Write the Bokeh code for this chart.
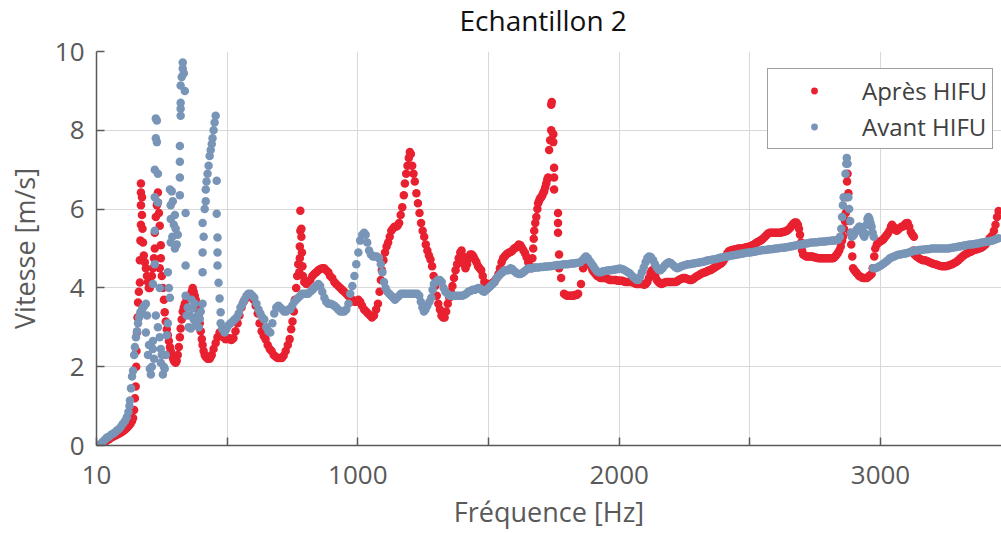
from bokeh.plotting import figure
from bokeh.models import FixedTicker, Range1d, Legend, LegendItem, ColumnDataSource, Title
from bokeh.embed import file_html
from bokeh.resources import INLINE

# ---------------- data ----------------
titre = "Echantillon 2"
x_label = "Fréquence [Hz]"
y_label = "Vitesse [m/s]"
serie_noms = ["Après HIFU", "Avant HIFU"]
x_ticks = [0, 500, 1000, 1500, 2000, 2500, 3000, 3500]
x_tick_labels = ["10", "", "1000", "", "2000", "", "3000", ""]
y_ticks = [0, 2, 4, 6, 8, 10]

avant_freq = [
    10, 18, 25, 33, 40, 48, 56, 63, 70, 78,
    86, 94, 101, 109, 116, 122, 126, 128, 132, 136,
    140, 144, 147, 151, 155, 159, 163, 168, 174, 178,
    183, 189,
    189, 193, 197, 201, 204, 208, 212, 216, 216, 220,
    227, 235, 242, 246, 246, 250, 254, 258, 261, 265,
    269, 273,
    216, 223, 223, 223, 223, 227, 227, 231, 231, 235,
    235, 242,
    273, 277, 281, 281, 284, 284, 284, 288, 290, 292,
    296, 300, 300, 303, 307, 311,
    319, 319, 319, 319, 322, 322, 322, 322, 326, 330,
    330, 334, 338, 341, 341,
    341, 345, 349, 353, 357, 361, 364, 368, 372, 376,
    380, 387, 391, 395, 399,
    406, 406, 406, 406, 410, 414, 418, 418, 421, 425,
    429, 433, 437, 441, 444, 448, 452, 456,
    460, 460, 463, 463, 463, 467, 471, 475, 482,
    475, 482, 490, 497, 505, 513, 521, 528, 536, 544,
    551, 559, 566, 574, 581, 589, 597, 604, 612, 620,
    627, 635, 642, 650, 658, 665, 673, 680, 688, 696,
    703, 711, 718, 726, 734, 741, 749, 757, 764, 772,
    780, 787, 795, 803, 810, 818, 826, 833, 841, 849,
    856, 864, 872, 879, 887, 895, 902, 910, 918, 925,
    933, 941, 948, 956, 964, 971, 979, 987, 994, 1002,
    1009, 1017, 1024, 1030, 1036, 1043, 1050, 1058, 1065, 1073,
    1081, 1088, 1094, 1100, 1106, 1113, 1120, 1128, 1135, 1142,
    1150, 1158, 1165, 1173, 1180, 1188, 1196, 1204, 1212, 1220,
    1228, 1235, 1241, 1247, 1253, 1259, 1266, 1274, 1281, 1286,
    1291, 1298, 1306, 1314, 1321, 1328, 1335, 1343, 1351, 1359,
    1367, 1375, 1383, 1391, 1399, 1407, 1415, 1423, 1431, 1439,
    1447, 1455, 1462, 1470, 1477, 1484, 1492, 1500, 1508, 1516,
    1524, 1531, 1539, 1546, 1554, 1561, 1569, 1576, 1584, 1591,
    1599, 1607, 1615, 1622, 1630, 1638, 1645, 1653, 1661, 1668,
    1676, 1684, 1692, 1700, 1708, 1716, 1724, 1732, 1740, 1748,
    1756, 1764, 1772, 1780, 1788, 1796, 1804, 1812, 1820, 1828,
    1836, 1844, 1852, 1860, 1867, 1873, 1880, 1887, 1894, 1901,
    1908, 1915, 1922, 1930, 1938, 1946, 1954, 1962, 1970, 1978,
    1986, 1994, 2002, 2010, 2018, 2026, 2034, 2042, 2050, 2058,
    2066, 2073, 2080, 2087, 2094, 2101, 2108, 2115, 2122, 2130,
    2137, 2144, 2151, 2158, 2166, 2174, 2182, 2190, 2198, 2206,
    2214, 2222, 2230, 2238, 2246, 2254, 2262, 2270, 2278, 2286,
    2294, 2302, 2310, 2318, 2326, 2334, 2342, 2350, 2358, 2366,
    2374, 2382, 2390, 2398, 2406, 2414, 2422, 2430, 2438, 2446,
    2454, 2462, 2470, 2478, 2486, 2494, 2502, 2510, 2518, 2526,
    2534, 2542, 2550, 2558, 2566, 2574, 2582, 2590, 2598, 2606,
    2614, 2622, 2630, 2638, 2646, 2654, 2662, 2670, 2678, 2686,
    2694, 2702, 2710, 2718, 2726, 2734, 2742, 2750, 2758, 2766,
    2774, 2782, 2790, 2798, 2806, 2814, 2822, 2830, 2838, 2845,
    2850, 2853, 2856, 2859, 2866, 2869, 2871, 2874, 2877, 2880,
    2884, 2887, 2890, 2894, 2898, 2902, 2906, 2910, 2914, 2918,
    2922, 2926, 2930, 2934, 2938, 2942, 2946, 2950, 2954, 2958,
    2962, 2966, 2970, 2974, 2972, 2980, 2988, 2996, 3004, 3012,
    3020, 3028, 3036, 3044, 3052, 3060, 3068, 3076, 3084, 3092,
    3100, 3108, 3116, 3124, 3132, 3140, 3148, 3156, 3164, 3172,
    3180, 3188, 3196, 3204, 3212, 3220, 3228, 3236, 3244, 3252,
    3260, 3268, 3276, 3284, 3292, 3300, 3308, 3316, 3324, 3332,
    3340, 3348, 3356, 3364, 3372, 3380, 3388, 3396, 3404, 3412,
    3420, 3428, 3436, 3444, 3452,
]
avant_vit = [
    0.0, 0.05, 0.1, 0.15, 0.2, 0.22, 0.27, 0.3, 0.33, 0.38,
    0.42, 0.48, 0.55, 0.62, 0.72, 0.85, 1.0, 1.14, 1.45, 1.75,
    1.9, 2.3, 2.5, 2.75, 2.9, 3.1, 3.25, 3.38, 3.45, 3.5,
    3.55, 3.6,
    2.87, 3.3, 2.3, 2.55, 1.95, 1.8, 2.0, 2.45, 2.65, 2.2,
    3.3, 3.0, 2.75, 2.45, 2.1, 2.3, 1.8, 2.0, 1.95, 2.3,
    2.8, 3.1,
    4.1, 4.6, 5.45, 6.3, 7.0, 7.8, 8.3, 8.25, 7.7, 6.9,
    6.17, 4.0,
    4.4, 4.0, 3.75, 6.5, 6.1, 5.75, 5.15, 6.45, 5.3, 6.2,
    5.6, 5.85, 5.0, 5.5, 5.1, 5.35,
    6.35, 6.8, 7.2, 7.6, 8.37, 8.55, 8.7, 9.14, 9.35, 9.57,
    9.72, 9.45, 9.0, 5.9, 4.57,
    3.8, 3.3, 3.5, 3.0, 3.3, 2.97, 3.7, 3.48, 3.2, 3.6,
    3.1, 3.3, 3.0, 3.22, 3.4,
    3.6, 4.4, 4.9, 5.65, 5.3, 6.0, 6.2, 6.5, 6.7, 6.9,
    7.1, 7.35, 7.5, 7.65, 7.8, 8.0, 8.2, 8.37,
    6.72, 5.88, 5.28, 4.9, 4.57, 4.13, 3.73, 3.38, 2.97,
    3.1, 2.95, 2.87, 2.95, 3.05, 3.1, 3.15, 3.2, 3.25, 3.35,
    3.5, 3.6, 3.7, 3.8, 3.85, 3.85, 3.8, 3.75, 3.6, 3.45,
    3.35, 3.25, 3.2, 3.0, 2.9, 2.87, 3.1, 3.35, 3.5, 3.55,
    3.5, 3.45, 3.4, 3.4, 3.45, 3.45, 3.55, 3.65, 3.7, 3.75,
    3.8, 3.85, 3.85, 3.85, 3.85, 3.9, 3.95, 4.0, 4.05, 4.1,
    4.05, 3.9, 3.75, 3.65, 3.6, 3.6, 3.58, 3.55, 3.5, 3.45,
    3.4, 3.4, 3.4, 3.45, 3.6, 3.85, 4.05, 4.3, 4.6, 4.9,
    5.2, 5.35, 5.4, 5.35, 5.15, 4.95, 4.85, 4.8, 4.8, 4.8,
    4.75, 4.6, 4.4, 4.15, 4.0, 3.9, 3.85, 3.8, 3.75, 3.7,
    3.75, 3.8, 3.85, 3.85, 3.85, 3.85, 3.85, 3.85, 3.85, 3.85,
    3.85, 3.8, 3.65, 3.5, 3.4, 3.45, 3.55, 3.65, 3.75, 3.95,
    4.1, 4.15, 4.2, 4.2, 4.15, 4.0, 3.9, 3.85, 3.8, 3.8,
    3.8, 3.8, 3.8, 3.8, 3.8, 3.82, 3.85, 3.9, 3.92, 3.95,
    3.95, 3.98, 4.0, 3.98, 3.92, 3.9, 3.95, 4.0, 4.05, 4.1,
    4.15, 4.25, 4.3, 4.35, 4.4, 4.45, 4.45, 4.45, 4.5, 4.48,
    4.42, 4.38, 4.35, 4.35, 4.38, 4.42, 4.46, 4.5, 4.5, 4.5,
    4.52, 4.52, 4.52, 4.53, 4.53, 4.54, 4.54, 4.55, 4.55, 4.56,
    4.57, 4.58, 4.58, 4.59, 4.6, 4.6, 4.6, 4.61, 4.62, 4.62,
    4.63, 4.64, 4.65, 4.7, 4.76, 4.8, 4.75, 4.68, 4.62, 4.55,
    4.48, 4.42, 4.4, 4.4, 4.42, 4.43, 4.44, 4.45, 4.45, 4.46,
    4.47, 4.48, 4.49, 4.48, 4.46, 4.43, 4.4, 4.36, 4.3, 4.25,
    4.21, 4.2, 4.28, 4.4, 4.52, 4.65, 4.76, 4.8, 4.78, 4.7,
    4.6, 4.52, 4.46, 4.45, 4.5, 4.57, 4.62, 4.65, 4.63, 4.58,
    4.53, 4.5, 4.52, 4.55, 4.57, 4.58, 4.6, 4.6, 4.61, 4.62,
    4.63, 4.64, 4.65, 4.66, 4.67, 4.69, 4.7, 4.71, 4.72, 4.73,
    4.74, 4.76, 4.77, 4.78, 4.79, 4.8, 4.81, 4.82, 4.83, 4.84,
    4.85, 4.86, 4.87, 4.88, 4.89, 4.9, 4.9, 4.91, 4.92, 4.93,
    4.94, 4.95, 4.96, 4.96, 4.97, 4.98, 4.98, 4.99, 5.0, 5.0,
    5.01, 5.02, 5.02, 5.03, 5.04, 5.05, 5.06, 5.07, 5.08, 5.09,
    5.1, 5.11, 5.12, 5.13, 5.14, 5.15, 5.15, 5.16, 5.16, 5.17,
    5.17, 5.18, 5.18, 5.19, 5.19, 5.2, 5.2, 5.21, 5.22, 5.3,
    5.5, 5.8, 6.1, 6.3, 6.9, 7.15, 7.3, 7.15, 6.3, 6.0,
    5.7, 5.4, 5.3, 5.32, 5.35, 5.4, 5.45, 5.48, 5.5, 5.55,
    5.55, 5.5, 5.45, 5.35, 5.3, 5.38, 5.6, 5.75, 5.8, 5.75,
    5.65, 5.55, 5.4, 5.3, 4.5, 4.5, 4.52, 4.55, 4.58, 4.62,
    4.66, 4.7, 4.75, 4.78, 4.8, 4.82, 4.84, 4.85, 4.86, 4.87,
    4.88, 4.9, 4.92, 4.93, 4.95, 4.95, 4.96, 4.97, 4.97, 4.98,
    4.98, 4.99, 5.0, 5.0, 5.0, 5.0, 5.0, 5.0, 5.0, 5.0,
    5.0, 5.01, 5.02, 5.03, 5.04, 5.05, 5.06, 5.07, 5.08, 5.09,
    5.1, 5.1, 5.11, 5.12, 5.13, 5.14, 5.15, 5.16, 5.17, 5.18,
    5.19, 5.2, 5.22, 5.24, 5.26,
]

apres_freq = [
    10, 18, 25, 33, 40, 48, 56, 63, 71, 78,
    86, 94, 101, 109, 117, 124, 130, 136, 140, 144,
    147, 150, 152, 153, 155, 157, 159, 162, 166, 166,
    168, 170, 170, 170, 170, 174, 174, 176, 178, 181,
    185, 189, 193, 197, 200, 204, 208, 212, 216, 220,
    223, 223, 227, 231, 235, 235, 239, 242, 246, 246,
    242, 250, 254, 258, 261, 265, 269, 273, 277, 281,
    284, 288, 292, 296, 300, 303, 307, 311, 315, 319,
    322, 326, 330, 334, 338, 345, 353, 357, 364, 368,
    372, 376, 380, 384, 387, 391, 395, 399, 403, 406,
    410, 414, 418, 425, 433, 437, 441, 448, 456, 463,
    471, 478, 486, 494, 501, 509, 516, 524, 532, 540,
    547, 555, 563, 570, 578, 586, 594, 601, 609, 617,
    624, 632, 640, 647, 655, 663, 670, 678, 686, 693,
    701, 709, 716, 724, 732, 739, 745, 750, 755, 759,
    764, 768, 772, 776, 778, 778, 780, 780, 784, 784,
    786, 788, 790, 795, 803, 810, 818, 826, 833, 841,
    849, 856, 864, 871, 879, 887, 894, 902, 910, 917,
    925, 933, 940, 948, 956, 963, 971, 979, 986, 994,
    1002, 1009, 1016, 1024, 1032, 1039, 1047, 1054, 1062, 1070,
    1077, 1083, 1088, 1092, 1098, 1104, 1110, 1116, 1122, 1128,
    1134, 1140, 1146, 1152, 1158, 1164, 1170, 1176, 1180, 1185,
    1190, 1195, 1199, 1203, 1208, 1213, 1218, 1224, 1230, 1236,
    1242, 1248, 1254, 1260, 1266, 1272, 1278, 1284, 1290, 1296,
    1302, 1308, 1314, 1320, 1326, 1332, 1338, 1344, 1350, 1356,
    1362, 1368, 1374, 1380, 1386, 1392, 1397, 1402, 1407, 1412,
    1418, 1424, 1430, 1436, 1442, 1448, 1454, 1460, 1466, 1472,
    1478, 1484, 1490, 1496, 1502, 1508, 1514, 1520, 1526, 1532,
    1538, 1544, 1550, 1556, 1562, 1568, 1574, 1580, 1586, 1592,
    1598, 1604, 1610, 1616, 1622, 1628, 1634, 1640, 1646, 1652,
    1658, 1664, 1668, 1671, 1673, 1675, 1679, 1683, 1687, 1690,
    1694, 1698, 1702, 1706, 1710, 1713, 1717, 1721, 1725, 1728,
    1732, 1736, 1740, 1740, 1742, 1748, 1748, 1751, 1751, 1751,
    1766, 1766, 1766, 1770, 1770, 1778, 1789, 1795, 1801, 1807,
    1813, 1819, 1825, 1831, 1837, 1843, 1854, 1862, 1868, 1874,
    1880, 1886, 1892, 1898, 1904, 1910, 1916, 1922, 1928, 1934,
    1940, 1946, 1952, 1958, 1964, 1970, 1976, 1982, 1988, 1994,
    2000, 2006, 2012, 2018, 2024, 2030, 2036, 2042, 2048, 2054,
    2060, 2066, 2072, 2078, 2084, 2090, 2096, 2102, 2108, 2114,
    2120, 2126, 2132, 2138, 2144, 2150, 2156, 2162, 2168, 2174,
    2180, 2186, 2192, 2198, 2204, 2210, 2216, 2222, 2228, 2234,
    2240, 2246, 2252, 2258, 2264, 2270, 2276, 2282, 2288, 2294,
    2300, 2306, 2312, 2318, 2324, 2330, 2336, 2342, 2348, 2354,
    2360, 2366, 2372, 2378, 2384, 2390, 2396, 2402, 2408, 2414,
    2420, 2426, 2432, 2438, 2444, 2450, 2456, 2462, 2468, 2474,
    2480, 2486, 2492, 2498, 2504, 2510, 2516, 2522, 2528, 2534,
    2540, 2546, 2552, 2558, 2564, 2570, 2576, 2582, 2588, 2594,
    2600, 2606, 2612, 2618, 2624, 2630, 2636, 2642, 2648, 2654,
    2660, 2666, 2672, 2678, 2684, 2688, 2692, 2696, 2700, 2704,
    2710, 2716, 2722, 2728, 2734, 2740, 2746, 2752, 2758, 2764,
    2770, 2776, 2782, 2788, 2794, 2800, 2806, 2812, 2818, 2824,
    2830, 2836, 2842, 2848, 2853, 2856, 2860, 2864, 2867, 2870,
    2872, 2874, 2877, 2880, 2884, 2888, 2892, 2895, 2900, 2906,
    2912, 2918, 2924, 2930, 2936, 2942, 2948, 2954, 2960, 2966,
    2970, 2976, 2980, 2986, 2992, 2998, 3004, 3010, 3016, 3022,
    3028, 3034, 3040, 3044, 3050, 3056, 3062, 3068, 3074, 3080,
    3086, 3092, 3098, 3104, 3110, 3116, 3122, 3128, 3126, 3130,
    3138, 3146, 3154, 3162, 3170, 3178, 3186, 3194, 3202, 3210,
    3218, 3226, 3234, 3242, 3250, 3258, 3266, 3274, 3282, 3290,
    3298, 3306, 3314, 3322, 3330, 3338, 3346, 3354, 3362, 3370,
    3378, 3386, 3394, 3402, 3410, 3418, 3426, 3434, 3440, 3446,
    3452,
]
apres_vit = [
    0.0, 0.03, 0.06, 0.1, 0.13, 0.16, 0.2, 0.22, 0.25, 0.27,
    0.3, 0.33, 0.36, 0.4, 0.45, 0.5, 0.55, 0.62, 0.7, 0.9,
    1.2, 1.5, 2.0, 2.4, 2.87, 3.25, 3.63, 3.9, 4.14, 4.7,
    5.2, 5.6, 6.1, 6.42, 6.65, 6.3, 5.85, 5.5, 5.15, 4.82,
    4.65, 4.5, 4.3, 4.15, 4.0, 4.0, 4.1, 4.3, 4.5, 4.75,
    5.0, 5.4, 5.8, 6.1, 6.42, 6.17, 5.9, 5.58, 5.08, 4.75,
    4.5, 4.3, 4.0, 3.7, 3.38, 3.15, 2.95, 2.8, 2.65, 2.5,
    2.4, 2.3, 2.22, 2.15, 2.12, 2.1, 2.15, 2.3, 2.5, 2.75,
    2.97, 3.2, 3.4, 3.5, 3.6, 3.7, 3.73, 3.8, 3.9, 4.0,
    3.9, 3.8, 3.7, 3.6, 3.48, 3.3, 3.1, 2.9, 2.7, 2.55,
    2.4, 2.3, 2.25, 2.2, 2.2, 2.25, 2.3, 2.45, 2.6, 2.75,
    2.87, 2.82, 2.75, 2.7, 2.7, 2.72, 2.68, 2.72, 2.9, 3.1,
    3.3, 3.5, 3.65, 3.72, 3.78, 3.82, 3.78, 3.7, 3.55, 3.35,
    3.1, 2.9, 2.78, 2.7, 2.55, 2.45, 2.4, 2.3, 2.25, 2.22,
    2.22, 2.22, 2.28, 2.4, 2.55, 2.7, 2.95, 3.15, 3.4, 3.7,
    4.0, 4.3, 4.6, 4.4, 4.75, 5.05, 5.45, 5.96, 5.5, 5.3,
    4.9, 4.55, 4.3, 4.15, 4.1, 4.15, 4.2, 4.3, 4.35, 4.4,
    4.45, 4.48, 4.5, 4.5, 4.45, 4.4, 4.3, 4.25, 4.15, 4.1,
    4.05, 4.0, 3.95, 3.9, 3.85, 3.8, 3.75, 3.7, 3.65, 3.65,
    3.7, 3.65, 3.55, 3.45, 3.4, 3.35, 3.3, 3.25, 3.3, 3.45,
    3.6, 3.9, 4.2, 4.45, 4.7, 4.9, 5.05, 5.15, 5.3, 5.45,
    5.5, 5.55, 5.55, 5.58, 5.65, 5.85, 6.05, 6.35, 6.65, 6.9,
    7.1, 7.3, 7.45, 7.4, 7.1, 6.9, 6.7, 6.4, 6.15, 5.9,
    5.65, 5.45, 5.3, 5.1, 4.95, 4.82, 4.72, 4.55, 4.3, 4.05,
    3.8, 3.6, 3.45, 3.3, 3.25, 3.25, 3.4, 3.6, 3.75, 3.9,
    4.05, 4.25, 4.45, 4.6, 4.75, 4.9, 4.95, 4.8, 4.6, 4.5,
    4.6, 4.75, 4.85, 4.85, 4.8, 4.72, 4.65, 4.55, 4.5, 4.45,
    4.3, 4.15, 4.1, 4.1, 4.1, 4.1, 4.12, 4.15, 4.2, 4.25,
    4.35, 4.5, 4.65, 4.75, 4.8, 4.85, 4.88, 4.9, 4.92, 4.95,
    5.0, 5.02, 5.05, 5.1, 5.08, 5.02, 4.95, 4.88, 4.78, 4.65,
    4.55, 4.5, 4.75, 5.0, 5.25, 5.45, 5.65, 5.8, 6.0, 6.15,
    6.22, 6.28, 6.3, 6.35, 6.42, 6.45, 6.55, 6.65, 6.75, 6.8,
    7.5, 7.75, 8.0, 8.65, 8.72, 7.9, 7.7, 7.05, 6.8, 6.5,
    5.9, 5.65, 5.4, 4.85, 4.5, 4.25, 3.85, 3.82, 3.8, 3.8,
    3.8, 3.8, 3.8, 3.82, 3.82, 3.85, 4.1, 4.5, 4.65, 4.7,
    4.65, 4.6, 4.55, 4.45, 4.4, 4.35, 4.3, 4.28, 4.25, 4.25,
    4.25, 4.25, 4.25, 4.22, 4.2, 4.2, 4.2, 4.2, 4.2, 4.18,
    4.18, 4.18, 4.18, 4.16, 4.15, 4.15, 4.15, 4.15, 4.15, 4.14,
    4.12, 4.1, 4.1, 4.1, 4.1, 4.1, 4.08, 4.1, 4.15, 4.25,
    4.38, 4.45, 4.4, 4.3, 4.2, 4.15, 4.12, 4.1, 4.12, 4.14,
    4.15, 4.15, 4.15, 4.15, 4.15, 4.15, 4.15, 4.17, 4.2, 4.22,
    4.24, 4.25, 4.25, 4.23, 4.22, 4.2, 4.2, 4.22, 4.25, 4.28,
    4.3, 4.33, 4.35, 4.37, 4.39, 4.4, 4.42, 4.44, 4.45, 4.47,
    4.5, 4.52, 4.55, 4.57, 4.6, 4.62, 4.66, 4.72, 4.8, 4.88,
    4.93, 4.95, 4.96, 4.97, 4.98, 4.99, 5.0, 5.0, 5.0, 5.0,
    5.02, 5.03, 5.04, 5.05, 5.06, 5.08, 5.1, 5.13, 5.16, 5.18,
    5.2, 5.22, 5.26, 5.3, 5.34, 5.38, 5.4, 5.4, 5.4, 5.4,
    5.4, 5.4, 5.4, 5.4, 5.42, 5.42, 5.44, 5.45, 5.48, 5.52,
    5.58, 5.63, 5.66, 5.66, 5.6, 5.5, 5.35, 5.15, 4.95, 4.85,
    4.82, 4.8, 4.8, 4.8, 4.8, 4.8, 4.78, 4.77, 4.76, 4.75,
    4.75, 4.75, 4.75, 4.75, 4.75, 4.75, 4.75, 4.75, 4.75, 4.78,
    4.82, 4.88, 4.95, 5.05, 5.2, 5.3, 5.5, 5.7, 5.9, 6.3,
    6.7, 6.9, 6.4, 5.7, 5.4, 5.1, 4.8, 4.5, 4.45, 4.4,
    4.35, 4.3, 4.28, 4.26, 4.25, 4.25, 4.25, 4.28, 4.32, 4.35,
    4.5, 4.8, 5.0, 5.1, 5.15, 5.18, 5.2, 5.22, 5.28, 5.33,
    5.38, 5.45, 5.55, 5.6, 5.55, 5.48, 5.45, 5.48, 5.52, 5.55,
    5.56, 5.6, 5.64, 5.65, 5.55, 5.42, 5.35, 5.3, 4.95, 4.85,
    4.8, 4.76, 4.73, 4.7, 4.7, 4.68, 4.66, 4.63, 4.61, 4.6,
    4.58, 4.56, 4.55, 4.55, 4.55, 4.56, 4.58, 4.6, 4.63, 4.66,
    4.7, 4.75, 4.8, 4.84, 4.87, 4.9, 4.92, 4.95, 4.97, 4.98,
    5.0, 5.02, 5.06, 5.1, 5.18, 5.26, 5.32, 5.45, 5.6, 5.8,
    5.95,
]

# ---------------- styles ----------------
ROUGE = "#E8202F"
BLEU = "#7895B7"
GRIS = "#595959"
FONT = "Open Sans"

p = figure(
    width=1001, height=533,
    x_range=Range1d(0, 3463), y_range=Range1d(0, 10),
    output_backend="svg", toolbar_location=None,
    min_border_left=96, min_border_right=0, min_border_top=51, min_border_bottom=88,
    title=titre,
)
p.outline_line_color = None
p.background_fill_color = "white"
p.border_fill_color = "white"

p.title.align = "left"
p.title.offset = 363
p.title.text_font = FONT
p.title.text_font_size = "28px"
p.title.text_font_style = "normal"
p.title.text_color = "#111111"
p.title.standoff = -10
# thin spacer between the title and the plot area
p.add_layout(Title(text=" ", text_font_size="1px", standoff=15), "above")

p.xaxis.ticker = FixedTicker(ticks=x_ticks)
p.xaxis.major_label_overrides = {t: l for t, l in zip(x_ticks, x_tick_labels)}
p.yaxis.ticker = FixedTicker(ticks=y_ticks)
p.xgrid.ticker = FixedTicker(ticks=x_ticks)
p.ygrid.ticker = FixedTicker(ticks=y_ticks)

for ax in (p.xaxis[0], p.yaxis[0]):
    ax.axis_line_color = GRIS
    ax.axis_line_width = 1.5
    ax.major_tick_line_color = GRIS
    ax.major_tick_line_width = 1.5
    ax.major_tick_in = 8
    ax.major_tick_out = 0
    ax.minor_tick_line_color = None
    ax.major_label_text_font = FONT
    ax.major_label_text_font_size = "26px"
    ax.major_label_text_color = GRIS
    ax.axis_label_text_font = FONT
    ax.axis_label_text_font_size = "27px"
    ax.axis_label_text_font_style = "normal"
    ax.axis_label_text_color = GRIS

p.xaxis.axis_label = x_label
p.yaxis.axis_label = y_label
p.xaxis.major_label_standoff = 20
p.xaxis.axis_label_standoff = 6
p.yaxis.major_label_standoff = 12
p.yaxis.axis_label_standoff = 9

p.xgrid.grid_line_color = "#D9D9D9"
p.ygrid.grid_line_color = "#D9D9D9"
p.xgrid.grid_line_width = 1
p.ygrid.grid_line_width = 1

src_apres = ColumnDataSource(data=dict(f=apres_freq, v=apres_vit))
src_avant = ColumnDataSource(data=dict(f=avant_freq, v=avant_vit))

r_apres = p.scatter("f", "v", source=src_apres, size=8.5, color=ROUGE, line_width=0)
r_avant = p.scatter("f", "v", source=src_avant, size=8.5, color=BLEU, line_width=0)

legend = Legend(
    items=[LegendItem(label=serie_noms[0], renderers=[r_apres]),
           LegendItem(label=serie_noms[1], renderers=[r_avant])],
    location=(671, 296),
)
legend.border_line_color = "#404040"
legend.border_line_width = 1
legend.background_fill_color = "white"
legend.background_fill_alpha = 1
legend.label_text_font = FONT
legend.label_text_font_size = "24px"
legend.label_text_color = "#404040"
legend.padding = 5
legend.spacing = 3
legend.glyph_width = 82
legend.glyph_height = 17
legend.label_height = 30
legend.label_standoff = 7
legend.margin = 0
p.add_layout(legend)

open("out.html", "w").write(file_html(p, INLINE))
